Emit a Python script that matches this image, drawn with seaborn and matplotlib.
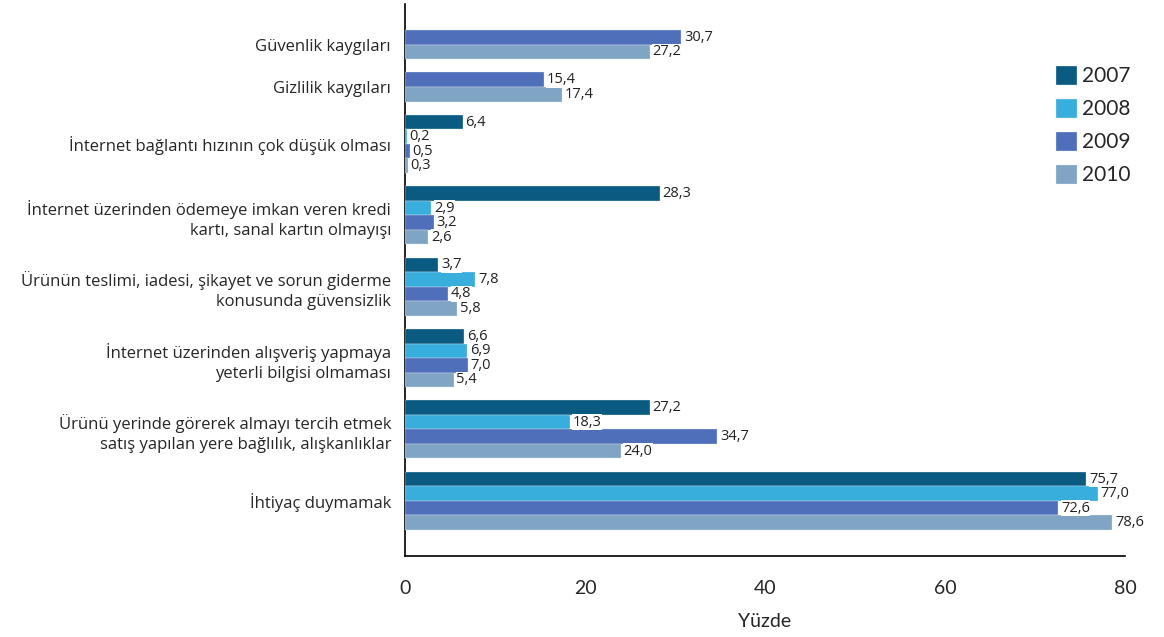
import numpy as np
import pandas as pd
import matplotlib
matplotlib.use("Agg")
import matplotlib.pyplot as plt
import seaborn as sns

# Veriler (yüzde)
nedenler = [
    "Güvenlik kaygıları",
    "Gizlilik kaygıları",
    "İnternet bağlantı hızının çok düşük olması",
    "İnternet üzerinden ödemeye imkan veren kredi\nkartı, sanal kartın olmayışı",
    "Ürünün teslimi, iadesi, şikayet ve sorun giderme\nkonusunda güvensizlik",
    "İnternet üzerinden alışveriş yapmaya\nyeterli bilgisi olmaması",
    "Ürünü yerinde görerek almayı tercih etmek\nsatış yapılan yere bağlılık, alışkanlıklar",
    "İhtiyaç duymamak",
]
yillar = ["2007", "2008", "2009", "2010"]
y2007 = [np.nan, np.nan, 6.4, 28.3, 3.7, 6.6, 27.2, 75.7]
y2008 = [np.nan, np.nan, 0.2, 2.9, 7.8, 6.9, 18.3, 77.0]
y2009 = [30.7, 15.4, 0.5, 3.2, 4.8, 7.0, 34.7, 72.6]
y2010 = [27.2, 17.4, 0.3, 2.6, 5.8, 5.4, 24.0, 78.6]
renkler = ["#0a5a82", "#38aedd", "#4f6fba", "#80a4c3"]

sns.set_style("white")
plt.rcParams["font.family"] = ["Open Sans", "DejaVu Sans"]

# uzun tablo; eksik yıllar çizilmez, gruplar arasında boşluk
gap = 0.92
marj = 1.8
rows = []
merkezler = []
pos = 0.0
for i, neden in enumerate(nedenler):
    start = pos
    for yil, seri in zip(yillar, [y2007, y2008, y2009, y2010]):
        if not np.isnan(seri[i]):
            rows.append({"Neden": neden, "Yıl": yil, "Yüzde": seri[i], "pos": pos + 0.5})
            pos += 1
    merkezler.append((start + pos) / 2)
    pos += gap
toplam = pos - gap
df = pd.DataFrame(rows)

fig = plt.figure(figsize=(11.64, 6.37), dpi=100)
ax = fig.add_axes([405 / 1164, 1 - 556 / 637, 720 / 1164, 552 / 637])

sns.barplot(data=df, x="Yüzde", y="pos", hue="Yıl", hue_order=yillar,
            palette=renkler, orient="h", native_scale=True, dodge=False,
            width=1.0, saturation=1, edgecolor="#dfe8f0", linewidth=0.25,
            legend=True, ax=ax)

for p in ax.patches:
    p.set_zorder(3)

# değer etiketleri
for _, r in df.iterrows():
    ax.text(r["Yüzde"] + 0.3, r["pos"], f"{r['Yüzde']:.1f}".replace(".", ","),
            va="center", ha="left", fontsize=10.5, color="#222222", zorder=4,
            bbox=dict(facecolor="white", edgecolor="none", pad=0.2))

ax.set_xlim(0, 80)
ax.set_ylim(toplam + marj, -marj)
ax.set_xticks([0, 20, 40, 60, 80])
ax.set_yticks(merkezler)
ax.set_yticklabels(nedenler, fontsize=12, linespacing=1.35)
ax.tick_params(axis="y", length=0, pad=10)
ax.tick_params(axis="x", direction="in", length=13, width=1.2, color="black",
               pad=17, labelsize=14)
for lab in ax.get_xticklabels():
    lab.set_family(["Lato", "DejaVu Sans"])
ax.set_ylabel("")
ax.set_xlabel("Yüzde", fontsize=14, family=["Lato", "DejaVu Sans"], labelpad=12)

sns.despine(ax=ax)
for s in ["left", "bottom"]:
    ax.spines[s].set_color("black")
    ax.spines[s].set_linewidth(1.2)

handles, labels = ax.get_legend_handles_labels()
ax.legend(handles, labels, loc="upper left", bbox_to_anchor=(1056 / 1164, 1 - 66 / 637),
          bbox_transform=fig.transFigure, frameon=False, borderpad=0, borderaxespad=0,
          handlelength=1.0, handleheight=1.0, handletextpad=0.25, labelspacing=0.6,
          prop={"family": ["Lato", "DejaVu Sans"], "size": 15})

fig.savefig("out.png", dpi=100)
